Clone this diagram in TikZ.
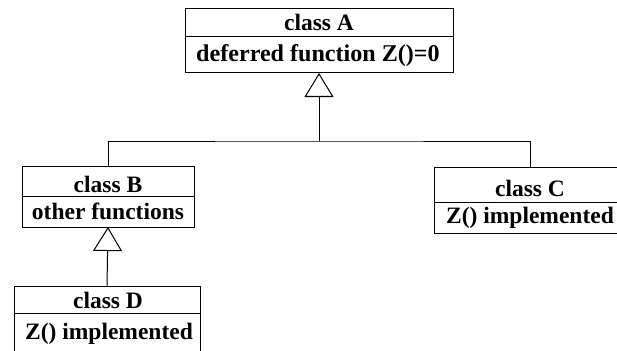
\documentclass[tikz,border=0pt]{standalone}
\usepackage{fontspec}
\setmainfont{Liberation Serif}
\usetikzlibrary{arrows.meta}
\begin{document}
\begin{tikzpicture}[x=1pt,y=-1pt,
  row/.style={draw=black,line width=1pt,inner sep=0pt,outer sep=0pt,anchor=north west},
  lbl/.style={font=\fontsize{23.5}{28}\selectfont\bfseries,anchor=base,inner sep=0pt},
  lblw/.style={lbl,font=\fontsize{24.1}{28}\selectfont\bfseries},
  link/.style={draw=black,line width=1pt},
  inh/.style={link,-{Triangle[open,length=24pt,width=29pt,line width=1pt]}}]
\useasboundingbox (0,0) rectangle (617,350);
% class A
\node[row,minimum width=268pt,minimum height=28pt] (A1) at (185,9) {};
\node[row,minimum width=268pt,minimum height=36pt] (A2) at (185,37) {};
\node[lbl] (tA1) at (319,31) {class A};
\node[lblw] (tA2) at (318,61.5) {deferred function Z()=0};
% class B
\node[row,minimum width=172pt,minimum height=30pt] (B1) at (22,166) {};
\node[row,minimum width=172pt,minimum height=31pt] (B2) at (22,196) {};
\node[lbl] (tB1) at (108,192) {class B};
\node[lbl] (tB2) at (108,219) {other functions};
% class C
\node[row,minimum width=192pt,minimum height=35pt] (C1) at (434,167) {};
\node[row,minimum width=192pt,minimum height=31pt] (C2) at (434,202) {};
\node[lbl] (tC1) at (530,196) {class C};
\node[lbl] (tC2) at (530,223) {Z() implemented};
% class D
\node[row,minimum width=186pt,minimum height=27pt] (D1) at (14,286) {};
\node[row,minimum width=186pt,minimum height=50pt] (D2) at (14,313) {};
\node[lbl] (tD1) at (108,308.5) {class D};
\node[lbl] (tD2) at (109,339) {Z() implemented};
% connectors
\coordinate (jA) at (A2.south |- 0,141);
\draw[inh] (jA) -- (A2.south);
\draw[link] (B1.north) |- (jA) -| (C1.north);
\draw[inh] (D1.north) -- (B2.south);
\end{tikzpicture}
\end{document}
